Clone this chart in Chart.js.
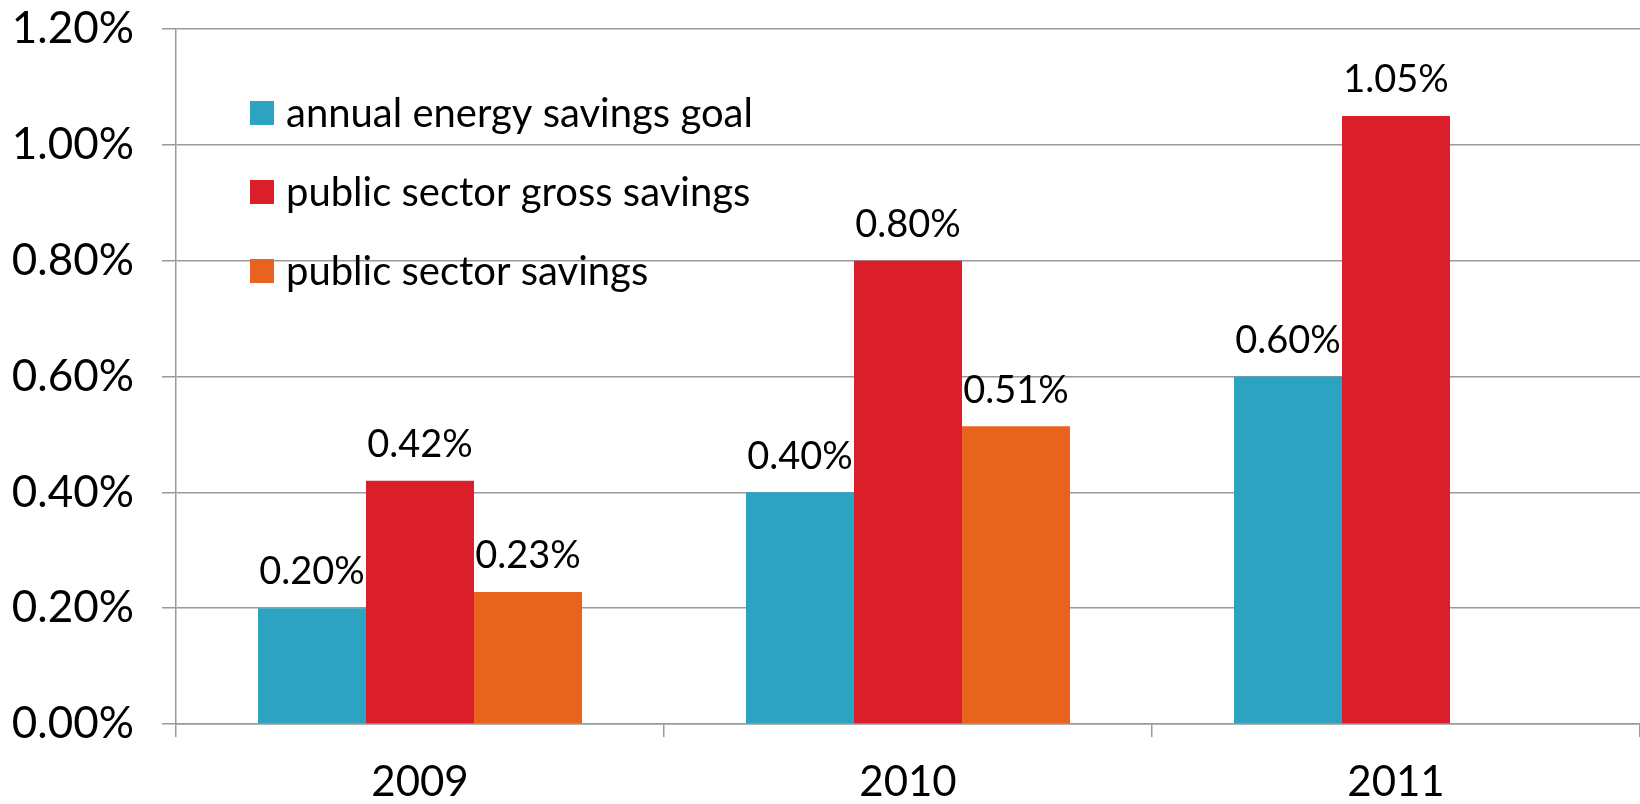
<!DOCTYPE html>
<html>
<head>
<meta charset="utf-8">
<script src="https://cdn.jsdelivr.net/npm/chart.js@4/dist/chart.umd.min.js"></script>
<style>
  html, body { margin: 0; padding: 0; background: #fff; }
  canvas { display: block; }
</style>
</head>
<body>
<canvas id="savings" width="1640" height="804"></canvas>
<script>
const years = ['2009', '2010', '2011']
const goal = [0.20, 0.40, 0.60]
const grossSavings = [0.42, 0.80, 1.05]
const sectorSavings = [0.228, 0.514, null]
const seriesNames = ['annual energy savings goal', 'public sector gross savings', 'public sector savings']
const seriesColors = ['#2CA3C0', '#DA1F2A', '#E8641E']
const yTicks = { min: 0, max: 1.2, step: 0.2 }

const FONT = 'Lato'
const GRID = '#9a9a9a'

// values written above every bar
const valueLabels = {
  id: 'valueLabels',
  afterDatasetsDraw(chart) {
    const ctx = chart.ctx
    ctx.save()
    ctx.font = `38px ${FONT}`
    ctx.fillStyle = '#000'
    ctx.textAlign = 'center'
    ctx.textBaseline = 'middle'
    chart.data.datasets.forEach((ds, i) => {
      chart.getDatasetMeta(i).data.forEach((bar, j) => {
        const v = ds.data[j]
        if (v == null) return
        ctx.fillText(v.toFixed(2) + '%', bar.x, bar.y - 36)
      })
    })
    ctx.restore()
  }
}

// legend sits inside the plot, top left
const innerLegend = {
  id: 'innerLegend',
  afterDraw(chart) {
    const ctx = chart.ctx
    const area = chart.chartArea
    ctx.save()
    ctx.font = `40px ${FONT}`
    ctx.textBaseline = 'middle'
    ctx.textAlign = 'left'
    chart.data.datasets.forEach((ds, i) => {
      const x = area.left + 74
      const y = area.top + 84 + i * 79
      ctx.fillStyle = ds.backgroundColor
      ctx.fillRect(x, y - 12, 24, 24)
      ctx.fillStyle = '#000'
      ctx.fillText(ds.label, x + 36, y + 1)
    })
    ctx.restore()
  }
}

const datasets = [goal, grossSavings, sectorSavings].map((data, i) => ({
  label: seriesNames[i],
  data: data,
  backgroundColor: seriesColors[i],
  borderWidth: 0,
  categoryPercentage: 0.664,
  barPercentage: 1
}))

new Chart(document.getElementById('savings'), {
  type: 'bar',
  data: { labels: years, datasets: datasets },
  plugins: [valueLabels, innerLegend],
  options: {
    responsive: false,
    animation: false,
    layout: { padding: { top: 29, right: 0, left: 0, bottom: 0 } },
    plugins: {
      legend: { display: false },
      tooltip: { enabled: false }
    },
    scales: {
      y: {
        min: yTicks.min,
        max: yTicks.max,
        afterFit(scale) {
          scale.width = 176
          scale.paddingTop = 0
          scale.paddingBottom = 0
        },
        ticks: {
          stepSize: yTicks.step,
          padding: 28,
          color: '#000',
          font: { family: FONT, size: 44 },
          callback: (v) => v.toFixed(2) + '%'
        },
        grid: { color: GRID, lineWidth: 1.5, tickLength: 14 },
        border: { color: GRID, width: 1.5 }
      },
      x: {
        afterFit(scale) {
          scale.height = 80
          scale.paddingLeft = 0
          scale.paddingRight = 0
        },
        ticks: {
          padding: 20,
          color: '#000',
          font: { family: FONT, size: 42 }
        },
        grid: { drawOnChartArea: false, color: GRID, lineWidth: 1.5, tickLength: 13, offset: true },
        border: { color: GRID, width: 1.5 }
      }
    }
  }
})
</script>
</body>
</html>
